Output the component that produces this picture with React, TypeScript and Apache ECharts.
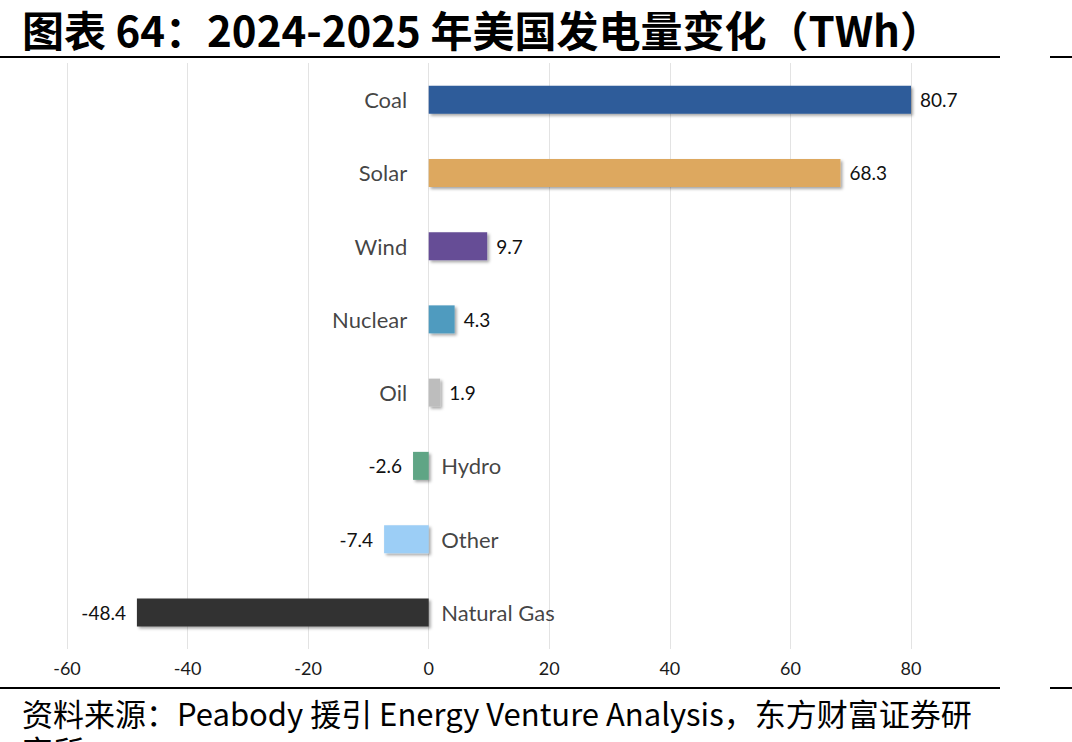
import React, { useEffect, useRef } from "react";
import * as echarts from "echarts";

const categories = ["Coal", "Solar", "Wind", "Nuclear", "Oil", "Hydro", "Other", "Natural Gas"];
const values = [80.7, 68.3, 9.7, 4.3, 1.9, -2.6, -7.4, -48.4];
const colors = ["#2F5C9A", "#DDA85F", "#664E96", "#4F9BBF", "#BDBDBD", "#5FA585", "#9CCEF6", "#333333"];
const xTicks = { min: -60, max: 80, interval: 20 };
const titleText = "图表 64：2024-2025 年美国发电量变化（TWh）";
const sourceLines = ["资料来源：Peabody 援引 Energy Venture Analysis，东方财富证券研", "究所"];

const FONT = "Lato, 'Noto Sans', sans-serif";

export default function App() {
  const ref = useRef<HTMLDivElement>(null);
  useEffect(() => {
    if (!ref.current) return;
    const chart = echarts.init(ref.current, null, { renderer: "svg" });
    const option = {
      animation: false,
      backgroundColor: "#ffffff",
      grid: { left: 67, right: 161, top: 63, bottom: 93, containLabel: false },
      xAxis: {
        type: "value",
        min: xTicks.min,
        max: xTicks.max,
        interval: xTicks.interval,
        axisLine: { show: false },
        axisTick: { show: false },
        axisLabel: { fontSize: 18, color: "#1a1a1a", fontFamily: FONT, margin: 10 },
        splitLine: { show: true, lineStyle: { color: "#E3E3E3", width: 1 } },
      },
      yAxis: {
        type: "category",
        data: categories,
        inverse: true,
        axisLine: { show: false },
        axisTick: { show: false },
        axisLabel: { show: false },
        splitLine: { show: false },
      },
      series: [
        {
          type: "bar",
          barWidth: 28,
          data: values.map((v, i) => ({
            value: v,
            itemStyle: {
              color: colors[i],
              shadowColor: "rgba(0,0,0,0.35)",
              shadowBlur: 3,
              shadowOffsetX: 2,
              shadowOffsetY: 2,
            },
            label: {
              show: true,
              position: v >= 0 ? "right" : "left",
              distance: v >= 0 ? 9 : 11,
              formatter: String(v),
              fontSize: 19,
              color: "#111",
              fontFamily: FONT,
            },
          })),
          z: 3,
        },
        {
          type: "scatter",
          symbolSize: 1,
          itemStyle: { color: "transparent" },
          data: categories.map((c, i) => ({
            value: [0, c],
            label: {
              show: true,
              position: values[i] >= 0 ? "left" : "right",
              distance: values[i] >= 0 ? 21 : 12,
              formatter: c,
              fontSize: 22,
              color: "#111",
              fontFamily: FONT,
            },
          })),
          z: 4,
        },
      ],
      graphic: [
        {
          type: "text",
          left: 22,
          top: 6,
          style: {
            text: titleText,
            font: "bold 42px 'Noto Sans CJK SC', sans-serif",
            lineHeight: 44,
            fill: "#000",
          },
        },
        { type: "line", shape: { x1: 0, y1: 57, x2: 1000, y2: 57 }, style: { stroke: "#000", lineWidth: 2 } },
        { type: "line", shape: { x1: 1050, y1: 57, x2: 1072, y2: 57 }, style: { stroke: "#000", lineWidth: 2 } },
        { type: "line", shape: { x1: 0, y1: 688, x2: 1000, y2: 688 }, style: { stroke: "#000", lineWidth: 2 } },
        { type: "line", shape: { x1: 1050, y1: 688, x2: 1072, y2: 688 }, style: { stroke: "#000", lineWidth: 2 } },
        {
          type: "text",
          left: 22,
          top: 694,
          style: {
            text: sourceLines.join("\n"),
            font: "31px 'Noto Sans CJK SC', sans-serif",
            lineHeight: 37,
            fill: "#000",
          },
        },
      ],
    };
    chart.setOption(option);
    return () => chart.dispose();
  }, []);
  return (
    <div
      ref={ref}
      style={{ position: "fixed", left: 0, top: 0, width: 1072, height: 742, background: "#fff" }}
    />
  );
}
